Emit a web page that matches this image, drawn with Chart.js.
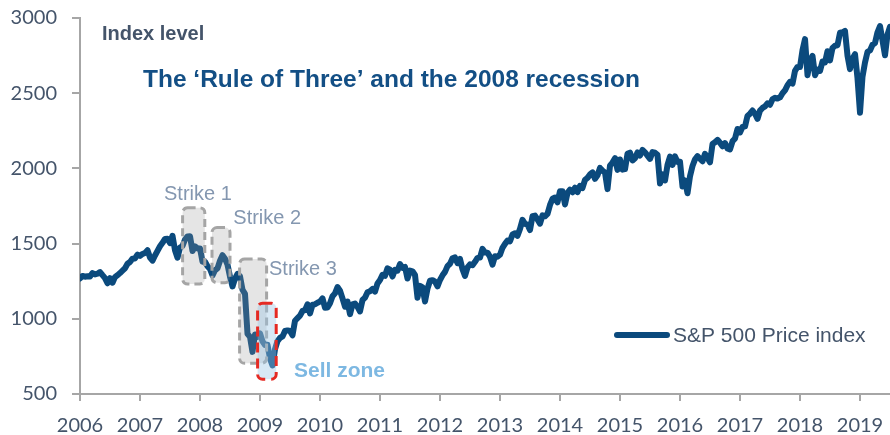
<!DOCTYPE html>
<html><head><meta charset="utf-8">
<script src="https://cdn.jsdelivr.net/npm/chart.js@4.4.1/dist/chart.umd.min.js"></script>
<style>html,body{margin:0;padding:0;background:#fff}#wrap{width:890px;height:435px;position:relative}</style>
</head><body><div id="wrap"><canvas id="c"></canvas></div>
<script>
// ---- data (semi-monthly index levels) ----
const years = [2006,2007,2008,2009,2010,2011,2012,2013,2014,2015,2016,2017,2018,2019];
const openingLevel = 1268;
const y2006 = [1285,1280,1283,1281,1304,1295,1300,1311,1290,1270,1236,1270,1240,1277,1290,1304,1320,1336,1366,1378,1400,1401,1427,1418];
const y2007 = [1431,1438,1456,1407,1387,1421,1452,1482,1505,1531,1533,1503,1552,1455,1406,1474,1484,1527,1548,1549,1451,1481,1468,1468];
const y2008 = [1380,1379,1349,1331,1288,1323,1335,1386,1423,1400,1360,1280,1215,1267,1298,1283,1193,1166,900,880,780,896,880,903];
const y2009 = [850,826,827,735,690,798,852,873,883,919,923,919,890,987,1004,1021,1052,1057,1096,1036,1093,1096,1107,1115];
const y2010 = [1136,1074,1075,1104,1150,1169,1211,1187,1136,1080,1115,1031,1096,1102,1079,1049,1125,1141,1176,1183,1198,1181,1235,1258];
const y2011 = [1293,1286,1336,1327,1281,1326,1320,1364,1338,1345,1268,1321,1316,1292,1140,1219,1209,1115,1200,1253,1257,1247,1216,1258];
const y2012 = [1289,1312,1350,1366,1402,1408,1370,1398,1330,1285,1342,1362,1356,1379,1405,1407,1465,1441,1440,1412,1360,1416,1413,1426];
const y2013 = [1472,1498,1520,1515,1561,1569,1552,1598,1658,1631,1626,1590,1682,1686,1661,1633,1688,1682,1698,1757,1798,1806,1775,1848];
const y2014 = [1848,1760,1838,1859,1841,1872,1842,1884,1870,1924,1937,1960,1973,1931,1955,2003,1985,1972,1862,2018,2039,2068,1990,2059];
const y2015 = [1992,1995,2097,2105,2053,2068,2106,2086,2123,2107,2085,2063,2108,2104,2090,1900,1960,1920,2023,2079,2023,2080,2043,2044];
const y2016 = [1880,1920,1835,1948,2016,2060,2081,2065,2047,2097,2071,2040,2162,2174,2190,2171,2147,2168,2133,2126,2180,2199,2262,2239];
const y2017 = [2275,2279,2349,2364,2385,2363,2329,2384,2402,2412,2433,2423,2459,2470,2464,2472,2500,2519,2553,2575,2564,2648,2675,2674];
const y2018 = [2786,2860,2620,2714,2748,2620,2656,2648,2711,2705,2779,2718,2801,2816,2819,2902,2905,2914,2750,2660,2730,2760,2600,2370];
const y2019 = [2610,2704,2775,2784,2822,2834,2905,2946,2850,2752,2890,2942,3010];
const valuesByYear = [y2006,y2007,y2008,y2009,y2010,y2011,y2012,y2013,y2014,y2015,y2016,y2017,y2018,y2019];
const seriesLabel = 'S&P 500 Price index';
const chartTitle = 'The \u2018Rule of Three\u2019 and the 2008 recession';
const axisTitle = 'Index level';

// annotation zones in data units (year, index level)
const zones = [
  {label:'Strike 1', x0:2007.71, x1:2008.08, y0:1232, y1:1738, lx:2007.40, ly:1792, kind:'strike'},
  {label:'Strike 2', x0:2008.20, x1:2008.50, y0:1240, y1:1607, lx:2008.555, ly:1632, kind:'strike'},
  {label:'Strike 3', x0:2008.66, x1:2009.11, y0:704,  y1:1397, lx:2009.15, ly:1292, kind:'strike'},
  {label:'Sell zone',x0:2008.96, x1:2009.27, y0:598,  y1:1104, lx:2009.567, ly:610, kind:'sell'}
];

const points = [{x:2006, y:openingLevel}];
years.forEach((yr,i)=>valuesByYear[i].forEach((v,k)=>points.push({x:yr+(k+1)/24, y:v})));

const axisColor = '#a6a6a6';
const textColor = '#44546a';
const lineColor = '#0b4a7d';

function rrect(ctx,x,y,w,h,r){
  ctx.beginPath();
  if (ctx.roundRect) ctx.roundRect(x,y,w,h,r); else ctx.rect(x,y,w,h);
}

const overlay = {
  id:'overlay',
  afterDatasetsDraw(chart){
    const {ctx, scales:{x,y}} = chart;
    ctx.save();
    zones.forEach(z=>{
      const px0=x.getPixelForValue(z.x0), px1=x.getPixelForValue(z.x1);
      const py0=y.getPixelForValue(z.y1), py1=y.getPixelForValue(z.y0);
      rrect(ctx,px0,py0,px1-px0,py1-py0,5);
      if (z.kind==='sell'){
        ctx.fillStyle='rgba(155,197,230,0.4)'; ctx.fill();
        ctx.setLineDash([10,6]); ctx.lineWidth=3; ctx.strokeStyle='#e52a23'; ctx.stroke();
      } else {
        ctx.fillStyle='rgba(153,153,153,0.25)'; ctx.fill();
        ctx.setLineDash([8,5]); ctx.lineWidth=3; ctx.strokeStyle='#a5a5a5'; ctx.stroke();
      }
    });
    ctx.setLineDash([]);
    ctx.textBaseline='alphabetic'; ctx.textAlign='left';
    zones.forEach(z=>{
      const lx=x.getPixelForValue(z.lx), ly=y.getPixelForValue(z.ly);
      if (z.kind==='sell'){ ctx.font='bold 21px "Liberation Sans", Arial'; ctx.fillStyle='#7db8e2'; }
      else { ctx.font='20px "Liberation Sans", Arial'; ctx.fillStyle='#8497b0'; }
      ctx.fillText(z.label,lx,ly);
    });
    ctx.restore();
  },
  afterDraw(chart){
    const {ctx, chartArea:ca} = chart;
    ctx.save();
    ctx.textBaseline='alphabetic'; ctx.textAlign='left';
    ctx.font='bold 20px "Liberation Sans", Arial'; ctx.fillStyle=textColor;
    ctx.fillText(axisTitle, ca.left+22, 40);
    ctx.font='bold 24.5px "Liberation Sans", Arial'; ctx.fillStyle='#134f85';
    ctx.fillText(chartTitle, ca.left+63, 87);
    // legend
    ctx.strokeStyle=lineColor; ctx.lineWidth=6; ctx.lineCap='round';
    ctx.beginPath(); ctx.moveTo(617,335); ctx.lineTo(667,335); ctx.stroke();
    ctx.font='21px "Liberation Sans", Arial'; ctx.fillStyle=textColor;
    ctx.fillText(seriesLabel, 673, 342);
    ctx.restore();
  }
};

new Chart(document.getElementById('c'), {
  type:'line',
  data:{datasets:[{label:seriesLabel, data:points, borderColor:lineColor, borderWidth:6,
    pointRadius:0, tension:0, borderJoinStyle:'round', borderCapStyle:'round', fill:false}]},
  options:{
    responsive:true, maintainAspectRatio:false, animation:false,
    layout:{padding:{top:18, right:0, left:0, bottom:0}},
    plugins:{legend:{display:false}, tooltip:{enabled:false}},
    scales:{
      x:{type:'linear', min:2006, max:2019.5,
        afterFit(s){ s.height=41; s.paddingLeft=0; s.paddingRight=0; },
        ticks:{stepSize:1, includeBounds:false, autoSkip:false, maxRotation:0, padding:13,
          color:textColor, font:{family:'Lato', size:20}, callback:v=>String(v)},
        grid:{drawOnChartArea:false, drawTicks:true, tickLength:7, color:axisColor, lineWidth:2},
        border:{color:axisColor, width:2}},
      y:{min:500, max:3000,
        afterFit(s){ s.width=80; s.paddingTop=0; s.paddingBottom=0; },
        ticks:{stepSize:500, padding:15, color:textColor, font:{family:'Lato', size:20}, callback:v=>String(v)},
        grid:{drawOnChartArea:false, drawTicks:true, tickLength:8, color:axisColor, lineWidth:2},
        border:{color:axisColor, width:2}}
    }
  },
  plugins:[overlay]
});
</script></body></html>
